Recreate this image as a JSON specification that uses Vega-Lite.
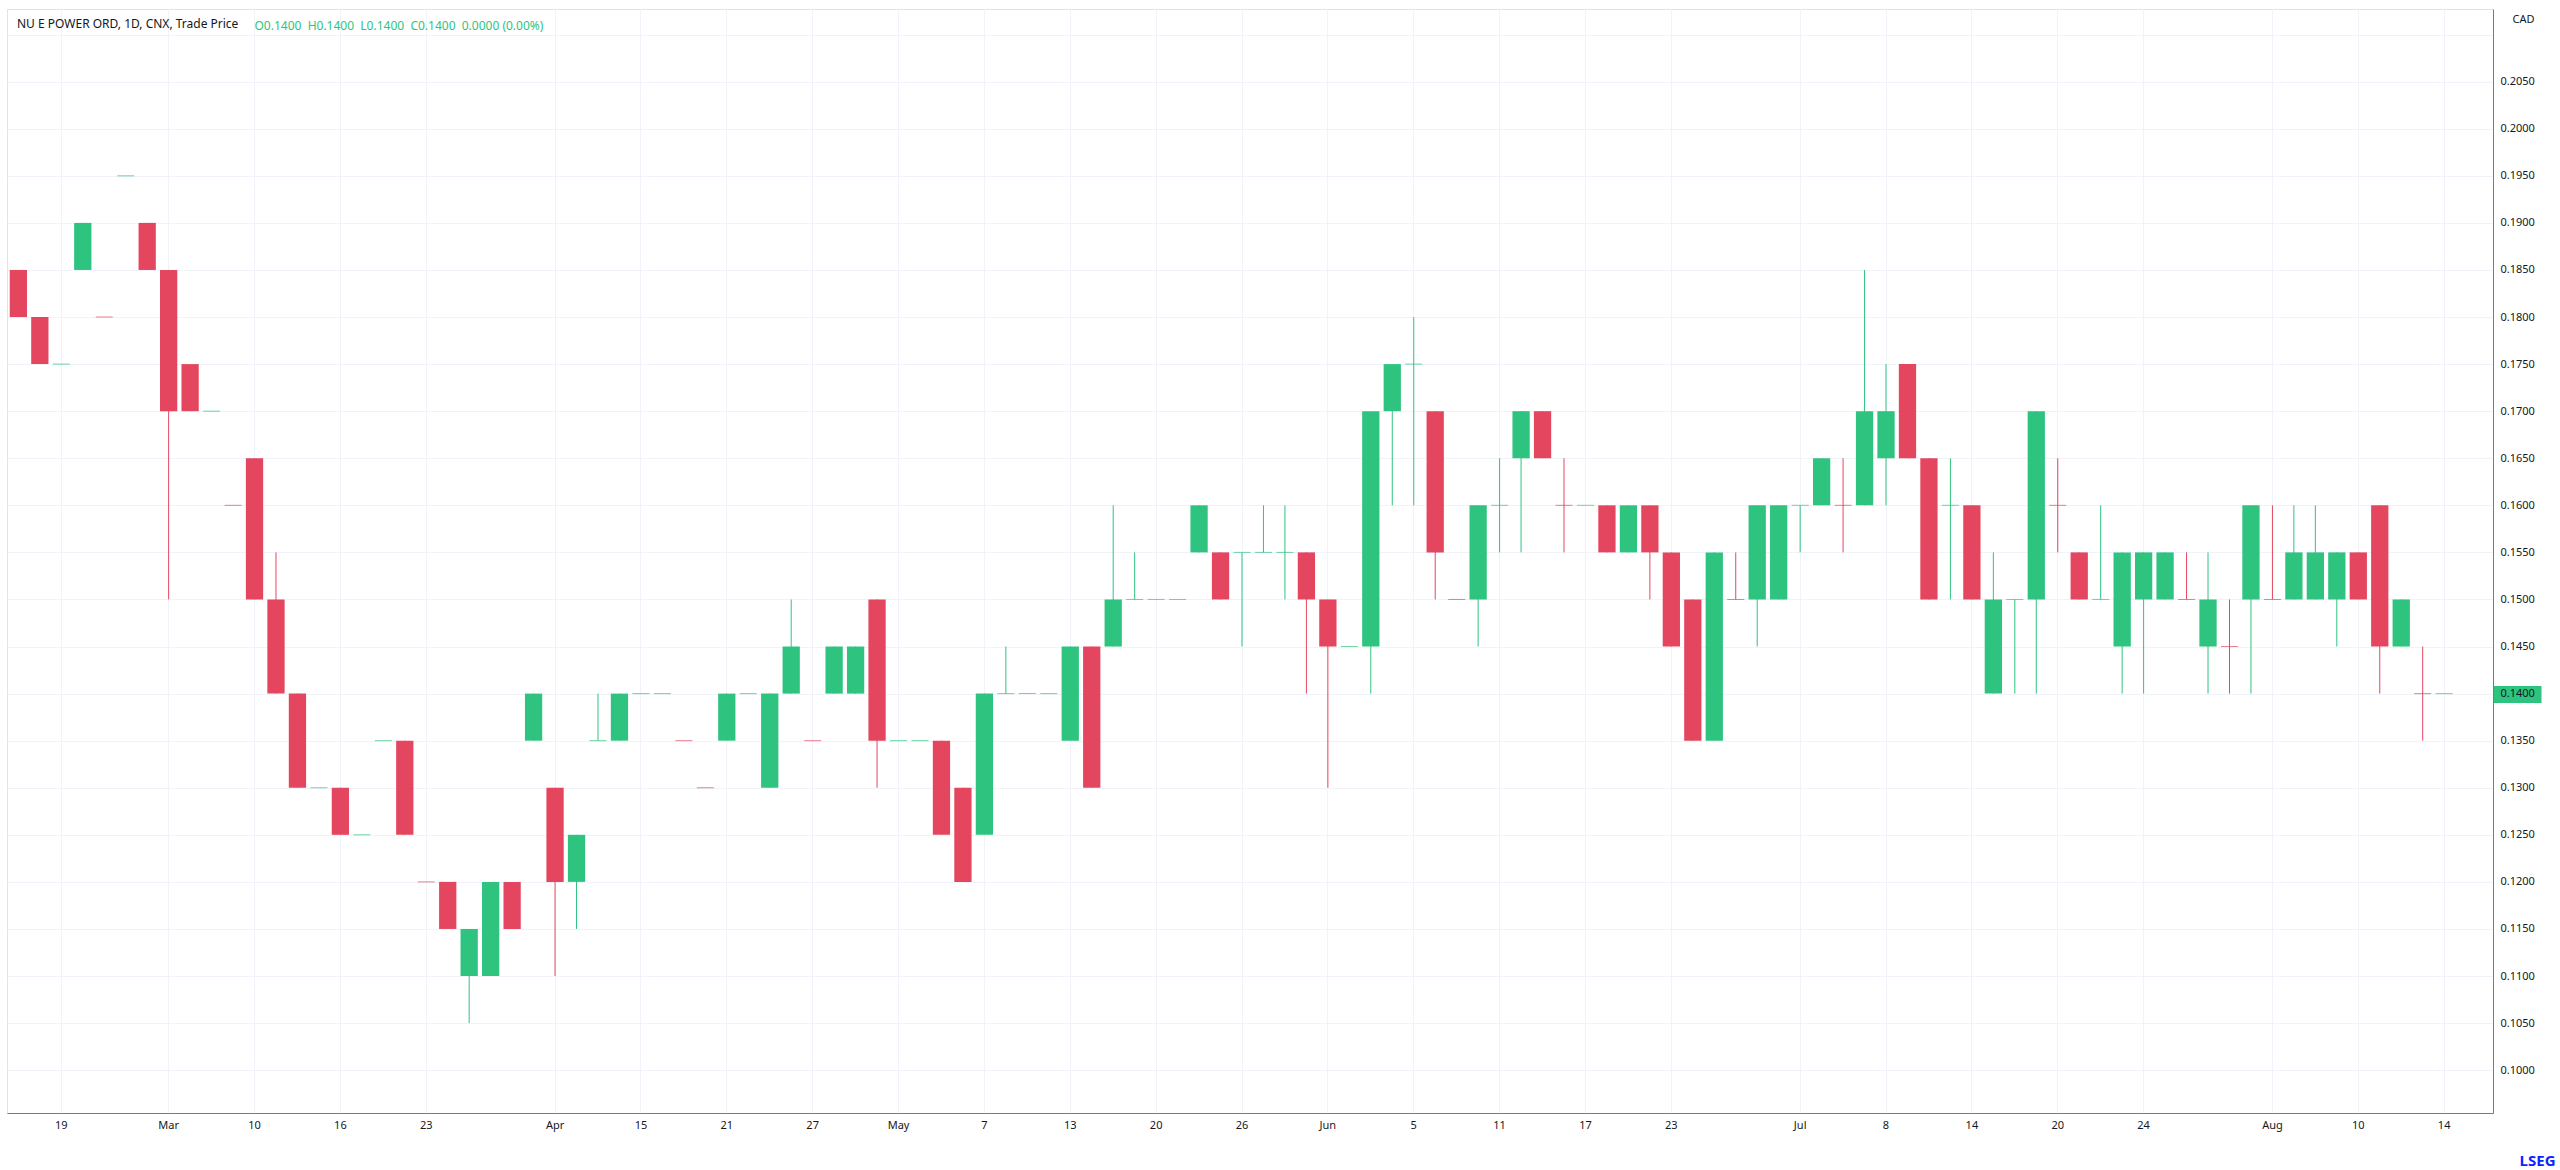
{
  "$schema": "https://vega.github.io/schema/vega-lite/v6.json",
  "width": 2486,
  "height": 1104,
  "autosize": "none",
  "padding": {"left": 7, "top": 9, "right": 67, "bottom": 57},
  "background": "white",
  "config": {"view": {"stroke": "#e0e3eb"}, "font": "Noto Sans"},
  "title": {
    "text": "NU E POWER ORD, 1D, CNX, Trade Price",
    "anchor": "start",
    "frame": "group",
    "offset": -22,
    "dx": 10,
    "fontSize": 12,
    "fontWeight": "normal",
    "color": "#131722"
  },
  "data": {
    "values": [
      {"d": "2020-02-14", "o": 0.185, "h": 0.185, "l": 0.18, "c": 0.18},
      {"d": "2020-02-18", "o": 0.18, "h": 0.18, "l": 0.175, "c": 0.175},
      {"d": "2020-02-19", "o": 0.175, "h": 0.175, "l": 0.175, "c": 0.175},
      {"d": "2020-02-20", "o": 0.185, "h": 0.19, "l": 0.185, "c": 0.19},
      {"d": "2020-02-24", "o": 0.18, "h": 0.18, "l": 0.18, "c": 0.18},
      {"d": "2020-02-25", "o": 0.195, "h": 0.195, "l": 0.195, "c": 0.195},
      {"d": "2020-02-27", "o": 0.19, "h": 0.19, "l": 0.185, "c": 0.185},
      {"d": "2020-03-02", "o": 0.185, "h": 0.185, "l": 0.15, "c": 0.17},
      {"d": "2020-03-03", "o": 0.175, "h": 0.175, "l": 0.17, "c": 0.17},
      {"d": "2020-03-05", "o": 0.17, "h": 0.17, "l": 0.17, "c": 0.17},
      {"d": "2020-03-06", "o": 0.16, "h": 0.16, "l": 0.16, "c": 0.16},
      {"d": "2020-03-10", "o": 0.165, "h": 0.165, "l": 0.15, "c": 0.15},
      {"d": "2020-03-11", "o": 0.15, "h": 0.155, "l": 0.14, "c": 0.14},
      {"d": "2020-03-12", "o": 0.14, "h": 0.14, "l": 0.13, "c": 0.13},
      {"d": "2020-03-13", "o": 0.13, "h": 0.13, "l": 0.13, "c": 0.13},
      {"d": "2020-03-16", "o": 0.13, "h": 0.13, "l": 0.125, "c": 0.125},
      {"d": "2020-03-17", "o": 0.125, "h": 0.125, "l": 0.125, "c": 0.125},
      {"d": "2020-03-18", "o": 0.135, "h": 0.135, "l": 0.135, "c": 0.135},
      {"d": "2020-03-20", "o": 0.135, "h": 0.135, "l": 0.125, "c": 0.125},
      {"d": "2020-03-23", "o": 0.12, "h": 0.12, "l": 0.12, "c": 0.12},
      {"d": "2020-03-24", "o": 0.12, "h": 0.12, "l": 0.115, "c": 0.115},
      {"d": "2020-03-25", "o": 0.11, "h": 0.115, "l": 0.105, "c": 0.115},
      {"d": "2020-03-26", "o": 0.11, "h": 0.12, "l": 0.11, "c": 0.12},
      {"d": "2020-03-30", "o": 0.12, "h": 0.12, "l": 0.115, "c": 0.115},
      {"d": "2020-03-31", "o": 0.135, "h": 0.14, "l": 0.135, "c": 0.14},
      {"d": "2020-04-01", "o": 0.13, "h": 0.13, "l": 0.11, "c": 0.12},
      {"d": "2020-04-03", "o": 0.12, "h": 0.125, "l": 0.115, "c": 0.125},
      {"d": "2020-04-08", "o": 0.135, "h": 0.14, "l": 0.135, "c": 0.135},
      {"d": "2020-04-13", "o": 0.135, "h": 0.14, "l": 0.135, "c": 0.14},
      {"d": "2020-04-15", "o": 0.14, "h": 0.14, "l": 0.14, "c": 0.14},
      {"d": "2020-04-16", "o": 0.14, "h": 0.14, "l": 0.14, "c": 0.14},
      {"d": "2020-04-17", "o": 0.135, "h": 0.135, "l": 0.135, "c": 0.135},
      {"d": "2020-04-20", "o": 0.13, "h": 0.13, "l": 0.13, "c": 0.13},
      {"d": "2020-04-21", "o": 0.135, "h": 0.14, "l": 0.135, "c": 0.14},
      {"d": "2020-04-22", "o": 0.14, "h": 0.14, "l": 0.14, "c": 0.14},
      {"d": "2020-04-23", "o": 0.13, "h": 0.14, "l": 0.13, "c": 0.14},
      {"d": "2020-04-24", "o": 0.14, "h": 0.15, "l": 0.14, "c": 0.145},
      {"d": "2020-04-27", "o": 0.135, "h": 0.135, "l": 0.135, "c": 0.135},
      {"d": "2020-04-28", "o": 0.14, "h": 0.145, "l": 0.14, "c": 0.145},
      {"d": "2020-04-29", "o": 0.14, "h": 0.145, "l": 0.14, "c": 0.145},
      {"d": "2020-04-30", "o": 0.15, "h": 0.15, "l": 0.13, "c": 0.135},
      {"d": "2020-05-01", "o": 0.135, "h": 0.135, "l": 0.135, "c": 0.135},
      {"d": "2020-05-04", "o": 0.135, "h": 0.135, "l": 0.135, "c": 0.135},
      {"d": "2020-05-05", "o": 0.135, "h": 0.135, "l": 0.125, "c": 0.125},
      {"d": "2020-05-06", "o": 0.13, "h": 0.13, "l": 0.12, "c": 0.12},
      {"d": "2020-05-07", "o": 0.125, "h": 0.14, "l": 0.125, "c": 0.14},
      {"d": "2020-05-08", "o": 0.14, "h": 0.145, "l": 0.14, "c": 0.14},
      {"d": "2020-05-11", "o": 0.14, "h": 0.14, "l": 0.14, "c": 0.14},
      {"d": "2020-05-12", "o": 0.14, "h": 0.14, "l": 0.14, "c": 0.14},
      {"d": "2020-05-13", "o": 0.135, "h": 0.145, "l": 0.135, "c": 0.145},
      {"d": "2020-05-14", "o": 0.145, "h": 0.145, "l": 0.13, "c": 0.13},
      {"d": "2020-05-15", "o": 0.145, "h": 0.16, "l": 0.145, "c": 0.15},
      {"d": "2020-05-19", "o": 0.15, "h": 0.155, "l": 0.15, "c": 0.15},
      {"d": "2020-05-20", "o": 0.15, "h": 0.15, "l": 0.15, "c": 0.15},
      {"d": "2020-05-21", "o": 0.15, "h": 0.15, "l": 0.15, "c": 0.15},
      {"d": "2020-05-22", "o": 0.155, "h": 0.16, "l": 0.155, "c": 0.16},
      {"d": "2020-05-25", "o": 0.155, "h": 0.155, "l": 0.15, "c": 0.15},
      {"d": "2020-05-26", "o": 0.155, "h": 0.155, "l": 0.145, "c": 0.155},
      {"d": "2020-05-27", "o": 0.155, "h": 0.16, "l": 0.155, "c": 0.155},
      {"d": "2020-05-28", "o": 0.155, "h": 0.16, "l": 0.15, "c": 0.155},
      {"d": "2020-05-29", "o": 0.155, "h": 0.155, "l": 0.14, "c": 0.15},
      {"d": "2020-06-01", "o": 0.15, "h": 0.15, "l": 0.13, "c": 0.145},
      {"d": "2020-06-02", "o": 0.145, "h": 0.145, "l": 0.145, "c": 0.145},
      {"d": "2020-06-03", "o": 0.145, "h": 0.17, "l": 0.14, "c": 0.17},
      {"d": "2020-06-04", "o": 0.17, "h": 0.175, "l": 0.16, "c": 0.175},
      {"d": "2020-06-05", "o": 0.175, "h": 0.18, "l": 0.16, "c": 0.175},
      {"d": "2020-06-08", "o": 0.17, "h": 0.17, "l": 0.15, "c": 0.155},
      {"d": "2020-06-09", "o": 0.15, "h": 0.15, "l": 0.15, "c": 0.15},
      {"d": "2020-06-10", "o": 0.15, "h": 0.16, "l": 0.145, "c": 0.16},
      {"d": "2020-06-11", "o": 0.16, "h": 0.165, "l": 0.155, "c": 0.16},
      {"d": "2020-06-12", "o": 0.165, "h": 0.17, "l": 0.155, "c": 0.17},
      {"d": "2020-06-15", "o": 0.17, "h": 0.17, "l": 0.165, "c": 0.165},
      {"d": "2020-06-16", "o": 0.16, "h": 0.165, "l": 0.155, "c": 0.16},
      {"d": "2020-06-17", "o": 0.16, "h": 0.16, "l": 0.16, "c": 0.16},
      {"d": "2020-06-18", "o": 0.16, "h": 0.16, "l": 0.155, "c": 0.155},
      {"d": "2020-06-19", "o": 0.155, "h": 0.16, "l": 0.155, "c": 0.16},
      {"d": "2020-06-22", "o": 0.16, "h": 0.16, "l": 0.15, "c": 0.155},
      {"d": "2020-06-23", "o": 0.155, "h": 0.155, "l": 0.145, "c": 0.145},
      {"d": "2020-06-24", "o": 0.15, "h": 0.15, "l": 0.135, "c": 0.135},
      {"d": "2020-06-25", "o": 0.135, "h": 0.155, "l": 0.135, "c": 0.155},
      {"d": "2020-06-26", "o": 0.15, "h": 0.155, "l": 0.15, "c": 0.15},
      {"d": "2020-06-29", "o": 0.15, "h": 0.16, "l": 0.145, "c": 0.16},
      {"d": "2020-06-30", "o": 0.15, "h": 0.16, "l": 0.15, "c": 0.16},
      {"d": "2020-07-02", "o": 0.16, "h": 0.16, "l": 0.155, "c": 0.16},
      {"d": "2020-07-03", "o": 0.16, "h": 0.165, "l": 0.16, "c": 0.165},
      {"d": "2020-07-06", "o": 0.16, "h": 0.165, "l": 0.155, "c": 0.16},
      {"d": "2020-07-07", "o": 0.16, "h": 0.185, "l": 0.16, "c": 0.17},
      {"d": "2020-07-08", "o": 0.165, "h": 0.175, "l": 0.16, "c": 0.17},
      {"d": "2020-07-09", "o": 0.175, "h": 0.175, "l": 0.165, "c": 0.165},
      {"d": "2020-07-10", "o": 0.165, "h": 0.165, "l": 0.15, "c": 0.15},
      {"d": "2020-07-13", "o": 0.16, "h": 0.165, "l": 0.15, "c": 0.16},
      {"d": "2020-07-14", "o": 0.16, "h": 0.16, "l": 0.15, "c": 0.15},
      {"d": "2020-07-15", "o": 0.14, "h": 0.155, "l": 0.14, "c": 0.15},
      {"d": "2020-07-16", "o": 0.15, "h": 0.15, "l": 0.14, "c": 0.15},
      {"d": "2020-07-17", "o": 0.15, "h": 0.17, "l": 0.14, "c": 0.17},
      {"d": "2020-07-20", "o": 0.16, "h": 0.165, "l": 0.155, "c": 0.16},
      {"d": "2020-07-21", "o": 0.155, "h": 0.155, "l": 0.15, "c": 0.15},
      {"d": "2020-07-22", "o": 0.15, "h": 0.16, "l": 0.15, "c": 0.15},
      {"d": "2020-07-23", "o": 0.145, "h": 0.155, "l": 0.14, "c": 0.155},
      {"d": "2020-07-24", "o": 0.15, "h": 0.155, "l": 0.14, "c": 0.155},
      {"d": "2020-07-27", "o": 0.15, "h": 0.155, "l": 0.15, "c": 0.155},
      {"d": "2020-07-28", "o": 0.15, "h": 0.155, "l": 0.15, "c": 0.15},
      {"d": "2020-07-29", "o": 0.145, "h": 0.155, "l": 0.14, "c": 0.15},
      {"d": "2020-07-30", "o": 0.145, "h": 0.15, "l": 0.14, "c": 0.145},
      {"d": "2020-07-31", "o": 0.15, "h": 0.16, "l": 0.14, "c": 0.16},
      {"d": "2020-08-04", "o": 0.15, "h": 0.16, "l": 0.15, "c": 0.15},
      {"d": "2020-08-05", "o": 0.15, "h": 0.16, "l": 0.15, "c": 0.155},
      {"d": "2020-08-06", "o": 0.15, "h": 0.16, "l": 0.15, "c": 0.155},
      {"d": "2020-08-07", "o": 0.15, "h": 0.155, "l": 0.145, "c": 0.155},
      {"d": "2020-08-10", "o": 0.155, "h": 0.155, "l": 0.15, "c": 0.15},
      {"d": "2020-08-11", "o": 0.16, "h": 0.16, "l": 0.14, "c": 0.145},
      {"d": "2020-08-12", "o": 0.145, "h": 0.15, "l": 0.145, "c": 0.15},
      {"d": "2020-08-13", "o": 0.14, "h": 0.145, "l": 0.135, "c": 0.14},
      {"d": "2020-08-14", "o": 0.14, "h": 0.14, "l": 0.14, "c": 0.14}
    ]
  },
  "transform": [
    {"window": [{"op": "lag", "field": "c", "as": "prev"}], "sort": [{"field": "d", "order": "ascending"}]},
    {"calculate": "datum.c > datum.o || (datum.c == datum.o && (datum.prev == null || datum.c >= datum.prev)) ? 'up' : 'down'", "as": "dir"}
  ],
  "resolve": {"axis": {"x": "independent"}},
  "layer": [
    {
      "mark": {"type": "rule", "strokeWidth": 1},
      "encoding": {
        "x": {
          "field": "d",
          "type": "ordinal",
          "scale": {"type": "band", "paddingInner": 0.195, "paddingOuter": 1.96, "align": 0.0637, "round": false},
          "axis": {
            "orient": "bottom",
            "values": ["2020-02-19", "2020-03-02", "2020-03-10", "2020-03-16", "2020-03-23", "2020-04-01", "2020-04-15", "2020-04-21", "2020-04-27", "2020-05-01", "2020-05-07", "2020-05-13", "2020-05-20", "2020-05-26", "2020-06-01", "2020-06-05", "2020-06-11", "2020-06-17", "2020-06-23", "2020-07-02", "2020-07-08", "2020-07-14", "2020-07-20", "2020-07-24", "2020-08-04", "2020-08-10", "2020-08-14"],
            "labelExpr": "utcdate(toDate(datum.value)) <= 4 ? utcFormat(toDate(datum.value), '%b') : utcFormat(toDate(datum.value), '%-d')",
            "labelAngle": 0,
            "labelFontSize": 11,
            "labelColor": "#131722",
            "labelPadding": 6,
            "labelOverlap": false,
            "ticks": false,
            "domainColor": "#787b86",
            "grid": true,
            "gridColor": "#f0f3fa",
            "bandPosition": 0.5,
            "title": "LSEG",
            "titleColor": "#0a24ff",
            "titleFontSize": 15,
            "titleFontWeight": "bold",
            "titleX": 2548,
            "titleY": 47,
            "titleAlign": "right",
            "titleBaseline": "middle"
          }
        },
        "y": {
          "field": "l",
          "type": "quantitative",
          "scale": {"domain": [0.09545, 0.21272], "nice": false, "zero": false},
          "axis": {
            "orient": "right",
            "values": [0.1, 0.105, 0.11, 0.115, 0.12, 0.125, 0.13, 0.135, 0.14, 0.145, 0.15, 0.155, 0.16, 0.165, 0.17, 0.175, 0.18, 0.185, 0.19, 0.195, 0.2, 0.205, 0.21],
            "labelExpr": "datum.value > 0.2075 ? '' : format(datum.value, '.4f')",
            "labelFontSize": 11,
            "labelColor": "#131722",
            "labelAlign": "left",
            "labelBaseline": "middle",
            "labelOverlap": false,
            "labelFlush": false,
            "labelPadding": {"condition": {"test": "abs(datum.value - 0.14) < 0.0001", "value": -41}, "value": 7},
            "ticks": true,
            "tickSize": {"condition": {"test": "abs(datum.value - 0.14) < 0.0001", "value": 48}, "value": 0},
            "tickWidth": {"condition": {"test": "abs(datum.value - 0.14) < 0.0001", "value": 17}, "value": 1},
            "tickColor": {"condition": {"test": "abs(datum.value - 0.14) < 0.0001", "value": "#2EC480"}, "value": "transparent"},
            "domainColor": "#787b86",
            "grid": true,
            "gridColor": "#f0f3fa",
            "title": "CAD",
            "titleAngle": 0,
            "titleX": 30,
            "titleY": 10,
            "titleAlign": "center",
            "titleBaseline": "middle",
            "titleFontSize": 11,
            "titleFontWeight": "normal",
            "titleColor": "#131722"
          }
        },
        "y2": {"field": "h"},
        "color": {"field": "dir", "type": "nominal", "scale": {"domain": ["up", "down"], "range": ["#2EC480", "#E5465F"]}, "legend": null}
      }
    },
    {
      "transform": [{"filter": "datum.o != datum.c"}],
      "mark": {"type": "bar"},
      "encoding": {
        "x": {
          "field": "d",
          "type": "ordinal",
          "axis": {
            "orient": "top",
            "labels": false,
            "ticks": false,
            "domain": false,
            "grid": false,
            "title": "O0.1400\u00a0\u00a0H0.1400\u00a0\u00a0L0.1400\u00a0\u00a0C0.1400\u00a0\u00a00.0000 (0.00%)",
            "titleColor": "#2EC480",
            "titleFontSize": 12,
            "titleFontWeight": "normal",
            "titleX": 247,
            "titleY": 16,
            "titleAlign": "left",
            "titleBaseline": "middle"
          }
        },
        "y": {"field": "o", "type": "quantitative"},
        "y2": {"field": "c"},
        "color": {"field": "dir", "type": "nominal", "legend": null}
      }
    },
    {
      "transform": [{"filter": "datum.o == datum.c"}],
      "mark": {"type": "tick", "thickness": 1, "size": 17},
      "encoding": {
        "x": {"field": "d", "type": "ordinal", "axis": null},
        "y": {"field": "c", "type": "quantitative"},
        "color": {"field": "dir", "type": "nominal", "legend": null}
      }
    }
  ]
}
